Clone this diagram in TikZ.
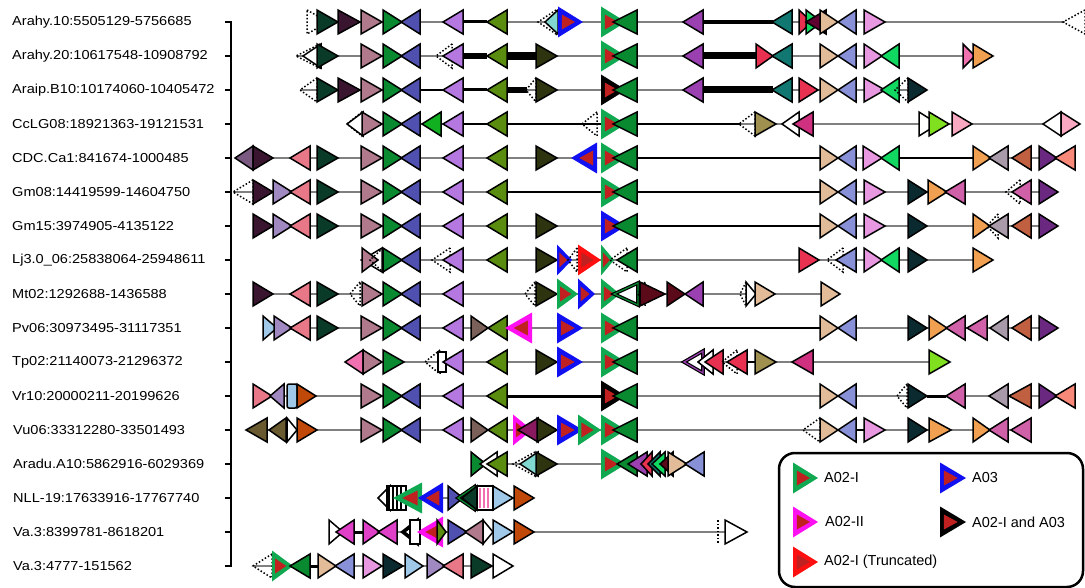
\documentclass[tikz,border=0pt]{standalone}
\usepackage{fontspec}
\setmainfont{Liberation Sans}
\usepackage{graphicx}
\definecolor{cdkgreen}{HTML}{0A3A28}
\definecolor{cdkpurple}{HTML}{3A1530}
\definecolor{cmauve}{HTML}{B07A8C}
\definecolor{cgreen}{HTML}{0A8A30}
\definecolor{cbluepurple}{HTML}{5050B0}
\definecolor{clavender}{HTML}{B478E0}
\definecolor{colive}{HTML}{5A8C10}
\definecolor{cdkolive}{HTML}{2E3310}
\definecolor{cteal}{HTML}{107870}
\definecolor{credpink}{HTML}{E83050}
\definecolor{cbrightgreen}{HTML}{10D860}
\definecolor{cmaroon}{HTML}{600030}
\definecolor{ctan}{HTML}{E2BC98}
\definecolor{clavblue}{HTML}{8890D8}
\definecolor{cpinklav}{HTML}{E898E0}
\definecolor{corange}{HTML}{F0A050}
\definecolor{cpink}{HTML}{F070B0}
\definecolor{cnavy}{HTML}{0A2A30}
\definecolor{ckhaki}{HTML}{A09050}
\definecolor{cmagpink}{HTML}{D03080}
\definecolor{clime}{HTML}{80E020}
\definecolor{clightpink}{HTML}{F8A8C0}
\definecolor{cgraypurple}{HTML}{7A5A80}
\definecolor{csalmonpink}{HTML}{E87888}
\definecolor{cgraymauve}{HTML}{A89AA8}
\definecolor{crust}{HTML}{C06040}
\definecolor{cviolet}{HTML}{6A2880}
\definecolor{csalmon}{HTML}{F88878}
\definecolor{clilac}{HTML}{A088C0}
\definecolor{cmagpinkb}{HTML}{D060A8}
\definecolor{clightblue}{HTML}{A0C8E8}
\definecolor{cbrowngray}{HTML}{7A6058}
\definecolor{crustb}{HTML}{C04808}
\definecolor{ckhakibrown}{HTML}{6A5A30}
\definecolor{cmaroonpurple}{HTML}{8A1A60}
\definecolor{cmagenta}{HTML}{E040C8}
\definecolor{clightteal}{HTML}{80D8D0}
\definecolor{cdkmaroon}{HTML}{5A0A18}
\definecolor{cpurple}{HTML}{9A40B0}
\definecolor{cgreenb}{HTML}{10B020}
\definecolor{hA02}{HTML}{10A850}
\definecolor{hA03}{HTML}{1010F0}
\definecolor{hA02II}{HTML}{FF10F0}
\definecolor{htrunc}{HTML}{FF1010}
\definecolor{hinner}{HTML}{C02020}
\definecolor{glinecol}{HTML}{808080}
\newcommand\gtri[3]{\filldraw[tri,fill=#3] (#1,\ry-12) -- (#2,\ry) -- (#1,\ry+12) -- cycle;}
\newcommand\gdot[2]{\draw[dotline] (#1,\ry-12) -- (#2,\ry) -- (#1,\ry+12) -- cycle;}
\newcommand\gto[3]{\filldraw[line width=3.6pt,fill=white] (#1,\ry-11) -- (#2,\ry) -- (#1,\ry+11) -- cycle;\draw[line width=1.2pt,#3] (#1,\ry-11) -- (#2,\ry) -- (#1,\ry+11) -- cycle;}
\newcommand\ghi[3]{\fill[#3] (#1,\ry-15.5) -- (#2,\ry) -- (#1,\ry+15.5) -- cycle;\fill[hinner] ({#1+0.15*(#2-#1)},\ry-7.5) -- ({#1+0.68*(#2-#1)},\ry) -- ({#1+0.15*(#2-#1)},\ry+7.5) -- cycle;}
\newcommand\gln[2]{\draw[gline] (#1,\ry) -- (#2,\ry);}
\newcommand\gbar[3]{\draw[line width=#3] (#1,\ry) -- (#2,\ry);}
\begin{document}
\begin{tikzpicture}[x=1pt,y=-1pt,
  tri/.style={draw=black,line width=1.5pt},
  dotline/.style={line width=1.5pt,dash pattern=on 1.5pt off 2pt},
  gline/.style={draw=glinecol,line width=1.2pt},
  lab/.style={anchor=west,inner sep=0pt,font=\fontsize{13}{15}\selectfont},
  legtxt/.style={anchor=west,inner sep=0pt,font=\fontsize{14.5}{16}\selectfont}]
\useasboundingbox (0,0) rectangle (1085,588);
% labels
\node[lab] (l1) at (12,22) {\scalebox{1.12}[1]{Arahy.10:5505129-5756685}};
\node[lab] (l2) at (12,56) {\scalebox{1.12}[1]{Arahy.20:10617548-10908792}};
\node[lab] (l3) at (12,90) {\scalebox{1.12}[1]{Araip.B10:10174060-10405472}};
\node[lab] (l4) at (12,124) {\scalebox{1.12}[1]{CcLG08:18921363-19121531}};
\node[lab] (l5) at (12,158) {\scalebox{1.12}[1]{CDC.Ca1:841674-1000485}};
\node[lab] (l6) at (12,192) {\scalebox{1.12}[1]{Gm08:14419599-14604750}};
\node[lab] (l7) at (12,226) {\scalebox{1.12}[1]{Gm15:3974905-4135122}};
\node[lab] (l8) at (12,260) {\scalebox{1.12}[1]{Lj3.0\_06:25838064-25948611}};
\node[lab] (l9) at (12,294) {\scalebox{1.12}[1]{Mt02:1292688-1436588}};
\node[lab] (l10) at (12,328) {\scalebox{1.12}[1]{Pv06:30973495-31117351}};
\node[lab] (l11) at (12,362) {\scalebox{1.12}[1]{Tp02:21140073-21296372}};
\node[lab] (l12) at (12,396) {\scalebox{1.12}[1]{Vr10:20000211-20199626}};
\node[lab] (l13) at (13,430) {\scalebox{1.12}[1]{Vu06:33312280-33501493}};
\node[lab] (l14) at (13,464) {\scalebox{1.12}[1]{Aradu.A10:5862916-6029369}};
\node[lab] (l15) at (13,498) {\scalebox{1.12}[1]{NLL-19:17633916-17767740}};
\node[lab] (l16) at (13,532) {\scalebox{1.12}[1]{Va.3:8399781-8618201}};
\node[lab] (l17) at (13,566) {\scalebox{1.12}[1]{Va.3:4777-151562}};
% bracket
\draw[line width=2pt] (225,22) -- (231,22) -- (231,566) -- (225,566);
\foreach \yy in {56,90,...,532} \draw[line width=2pt] (225,\yy) -- (231,\yy);
% Row 1
\def\ry{22}
\gln{317}{1065}\gbar{462}{487}{3pt}\gbar{703}{773}{4pt}
\gdot{307}{328}\gtri{317}{338}{cdkgreen}\gtri{338}{360}{cdkpurple}\gtri{361}{382}{cmauve}
\gtri{383}{402}{cgreen}\gtri{420}{401}{cbluepurple}\gtri{463}{443}{clavender}\gtri{507}{487}{colive}
\gdot{556}{538}\gtri{558}{545}{clightteal}\ghi{558}{583}{hA03}
\ghi{601}{626}{hA02}\gtri{637}{613}{cgreen}
\gtri{703}{683}{cpurple}\gtri{792}{772}{cteal}\gtri{799}{812}{credpink}\gtri{806}{822}{cbrightgreen}
\gtri{826}{806}{cmaroon}\gtri{820}{838}{ctan}\gtri{856}{838}{clavblue}\gtri{864}{885}{cpinklav}
\gdot{1085}{1063}
% Row 2
\def\ry{56}
\gln{296}{993}\gbar{463}{487}{6pt}\gbar{507}{537}{8pt}\gbar{703}{757}{7pt}
\gdot{320}{296}\gtri{321}{303}{white}\gtri{317}{338}{cdkgreen}\gtri{361}{382}{cmauve}
\gtri{383}{402}{cgreen}\gtri{420}{401}{cbluepurple}\gdot{452}{436}\gtri{463}{443}{clavender}
\gtri{507}{487}{colive}\gtri{536}{557}{cdkolive}
\ghi{601}{626}{hA02}\gtri{637}{613}{cgreen}
\gtri{703}{683}{cpurple}\gtri{756}{773}{credpink}\gtri{792}{772}{cteal}
\gtri{820}{838}{ctan}\gtri{856}{838}{clavblue}\gtri{864}{882}{cpinklav}\gtri{899}{881}{cbrightgreen}
\gtri{963}{975}{cpink}\gtri{973}{993}{corange}
% Row 3
\def\ry{90}
\gln{300}{927}\gbar{420}{443}{2pt}\gbar{463}{487}{3pt}\gbar{507}{527}{6pt}\gbar{703}{773}{7pt}
\gdot{317}{300}\gtri{317}{338}{cdkgreen}\gtri{338}{360}{cdkpurple}\gtri{361}{382}{cmauve}
\gtri{383}{402}{cgreen}\gtri{420}{401}{cbluepurple}\gtri{463}{443}{clavender}\gtri{507}{487}{colive}
\gdot{536}{526}\gtri{536}{557}{cdkolive}
\ghi{601}{626}{black}\gtri{637}{613}{cgreen}
\gtri{703}{683}{cpurple}\gtri{792}{772}{cteal}\gtri{799}{818}{credpink}
\gtri{820}{838}{ctan}\gtri{856}{838}{clavblue}\gtri{864}{885}{cpinklav}\gtri{899}{881}{cbrightgreen}
\gdot{908}{895}\gtri{908}{927}{cnavy}
% Row 4
\def\ry{124}
\gln{347}{1080}\gbar{463}{487}{2pt}\gbar{507}{740}{1.8pt}
\gdot{362}{347}\gtri{363}{347}{white}\gtri{362}{382}{cmauve}
\gtri{383}{402}{cgreen}\gtri{420}{401}{cbluepurple}\gtri{441}{422}{cgreenb}\gtri{463}{443}{clavender}
\gtri{507}{487}{colive}\gdot{597}{582}
\ghi{601}{626}{hA02}\gtri{637}{613}{cgreen}
\gdot{755}{739}\gtri{755}{776}{ckhaki}\gtri{799}{782}{white}\gtri{813}{793}{cmagpink}
\gtri{919}{938}{white}\gtri{929}{949}{clime}\gtri{952}{972}{clightpink}
\gtri{1061}{1043}{white}\gtri{1061}{1080}{clightpink}
% Row 5
\def\ry{158}
\gln{235}{1075}\gbar{637}{820}{1.8pt}\gbar{899}{973}{1.8pt}
\gtri{253}{235}{cgraypurple}\gtri{253}{273}{cdkpurple}\gtri{310}{290}{csalmonpink}\gtri{317}{338}{cdkgreen}
\gtri{361}{382}{cmauve}\gtri{383}{402}{cgreen}\gtri{420}{401}{cbluepurple}\gtri{463}{443}{clavender}
\gtri{507}{487}{colive}\gtri{536}{557}{cdkolive}
\ghi{597}{571}{hA03}\ghi{601}{626}{hA02}\gtri{637}{613}{cgreen}
\gtri{820}{838}{ctan}\gtri{856}{838}{clavblue}\gtri{863}{882}{cpinklav}\gtri{899}{881}{cbrightgreen}
\gtri{973}{991}{corange}\gtri{1008}{989}{cgraymauve}\gtri{1031}{1012}{crust}
\gtri{1039}{1057}{cviolet}\gtri{1075}{1055}{csalmon}
% Row 6
\def\ry{192}
\gln{233}{1058}\gbar{507}{820}{1.8pt}
\gdot{253}{233}\gtri{253}{273}{cdkpurple}\gtri{273}{292}{clilac}\gtri{310}{290}{csalmonpink}
\gtri{317}{338}{cdkgreen}\gtri{361}{382}{cmauve}\gtri{383}{402}{cgreen}\gtri{420}{401}{cbluepurple}
\gtri{463}{443}{clavender}\gtri{507}{487}{colive}
\ghi{601}{626}{hA02}\gtri{637}{613}{cgreen}
\gtri{820}{838}{ctan}\gtri{856}{838}{clavblue}\gtri{864}{885}{cpinklav}
\gtri{908}{927}{cnavy}\gtri{928}{947}{corange}\gtri{965}{945}{cmagpinkb}
\gdot{1020}{1006}\gtri{1031}{1012}{cmagpinkb}\gtri{1039}{1058}{cviolet}
% Row 7
\def\ry{226}
\gln{253}{1058}\gbar{637}{820}{1.8pt}
\gtri{253}{273}{cdkpurple}\gtri{273}{292}{clilac}\gtri{310}{290}{csalmonpink}\gtri{317}{338}{cdkgreen}
\gtri{361}{382}{cmauve}\gtri{383}{402}{cgreen}\gtri{420}{401}{cbluepurple}\gtri{463}{443}{clavender}
\gtri{507}{487}{colive}\gtri{536}{557}{cdkolive}
\ghi{601}{626}{hA03}\gtri{637}{613}{cgreen}
\gtri{820}{838}{ctan}\gtri{856}{838}{clavblue}\gtri{864}{885}{cpinklav}\gtri{908}{927}{cnavy}
\gtri{973}{990}{corange}\gdot{998}{987}\gtri{1008}{989}{cgraymauve}\gtri{1031}{1012}{crust}
\gtri{1039}{1058}{cviolet}
% Row 8
\def\ry{260}
\gln{360}{993}
\gtri{382}{362}{white}\gtri{362}{378}{cmauve}\gdot{383}{370}
\gtri{383}{402}{cgreen}\gtri{420}{401}{cbluepurple}\gdot{450}{432}\gtri{463}{443}{clavender}
\gtri{507}{487}{colive}\gtri{536}{557}{cdkolive}
\ghi{557}{572}{hA03}\gdot{577}{568}\ghi{578}{601}{htrunc}\ghi{601}{614}{hA02}
\gdot{627}{610}\gtri{637}{617}{cgreen}
\gtri{799}{819}{credpink}\gdot{843}{827}\gtri{856}{836}{clavblue}\gtri{864}{882}{cpinklav}
\gtri{899}{881}{cbrightgreen}\gtri{908}{927}{cnavy}\gtri{973}{993}{corange}
% Row 9
\def\ry{294}
\gln{253}{840}
\gtri{253}{273}{cdkpurple}\gtri{310}{290}{csalmonpink}\gtri{317}{338}{cdkgreen}\gdot{360}{350}
\gtri{362}{382}{cmauve}\gtri{383}{402}{cgreen}\gtri{420}{401}{cbluepurple}\gtri{463}{443}{clavender}
\gdot{535}{525}\gtri{536}{557}{cdkolive}
\ghi{557}{578}{hA02}\ghi{578}{595}{hA03}\ghi{601}{620}{hA02}\gto{638}{614}{cgreen}
\gdot{645}{638}\gtri{640}{665}{cdkmaroon}\gtri{667}{685}{cdkmaroon}\gtri{703}{685}{cpurple}
\gdot{746}{740}\gtri{746}{756}{white}\gtri{755}{775}{ctan}\gtri{821}{840}{ctan}
% Row 10
\def\ry{328}
\gln{263}{1058}\gbar{637}{820}{1.8pt}
\gtri{263}{277}{clightblue}\gtri{274}{292}{clilac}\gtri{310}{290}{csalmonpink}\gtri{317}{338}{cdkgreen}
\gtri{361}{382}{cmauve}\gtri{383}{402}{cgreen}\gtri{420}{401}{cbluepurple}\gtri{463}{443}{clavender}
\gtri{471}{488}{cbrowngray}\gtri{507}{488}{colive}
\ghi{532}{505}{hA02II}\ghi{557}{583}{hA03}\ghi{601}{626}{hA02}\gtri{637}{613}{cgreen}
\gtri{820}{838}{ctan}\gtri{856}{838}{clavblue}\gtri{908}{927}{cnavy}\gtri{929}{947}{corange}
\gtri{965}{946}{cmagpinkb}\gtri{987}{967}{cmagpinkb}\gtri{1008}{990}{cgraymauve}
\gtri{1031}{1012}{crust}\gtri{1039}{1058}{cviolet}
% Row 11
\def\ry{362}
\gln{345}{950}\gbar{747}{755}{2pt}
\gtri{363}{345}{cpink}\gtri{363}{382}{cmauve}\gtri{383}{404}{cgreen}
\gdot{440}{425}\draw[tri,fill=white] (438,\ry-10) rectangle (446,\ry+10);
\gtri{463}{443}{clavender}\gtri{507}{487}{colive}\gtri{536}{557}{cdkolive}
\ghi{557}{583}{hA03}\ghi{601}{626}{hA02}\gtri{637}{613}{cgreen}
\gto{703}{684}{cpurple}\gtri{713}{698}{white}\gtri{723}{705}{credpink}\gdot{737}{722}
\gtri{747}{727}{credpink}\gtri{755}{776}{ckhaki}\gtri{813}{792}{cmagpink}\gtri{929}{950}{clime}
% Row 12
\def\ry{396}
\gln{253}{1075}\gbar{507}{601}{3pt}\gbar{927}{946}{3pt}
\gtri{253}{272}{csalmonpink}\gtri{284}{270}{clilac}
\filldraw[tri,fill=clightblue,rounded corners=2pt] (287,\ry-12) rectangle (297,\ry+12);
\gtri{297}{316}{crustb}
\gtri{361}{382}{cmauve}\gtri{383}{402}{cgreen}\gtri{420}{401}{cbluepurple}\gtri{463}{443}{clavender}
\gtri{507}{487}{colive}
\ghi{601}{626}{black}\gtri{637}{613}{cgreen}
\gtri{820}{838}{ctan}\gtri{856}{838}{clavblue}\gdot{907}{897}\gtri{908}{927}{cnavy}
\gtri{965}{946}{cmagpinkb}\gtri{1008}{989}{cgraymauve}\gtri{1031}{1009}{crust}
\gtri{1039}{1057}{cviolet}\gtri{1075}{1055}{csalmon}
% Row 13
\def\ry{430}
\gln{246}{1031}\gbar{856}{864}{2pt}
\gtri{267}{246}{ckhakibrown}\gtri{286}{269}{ckhakibrown}\gtri{287}{297}{white}\gtri{297}{317}{crustb}
\gtri{361}{382}{cmauve}\gtri{383}{402}{cgreen}\gtri{420}{401}{cbluepurple}\gtri{463}{443}{clavender}
\gtri{471}{488}{cbrowngray}\gtri{507}{488}{colive}
\ghi{513}{532}{hA02II}\gtri{538}{518}{cmaroonpurple}\gtri{537}{557}{cdkolive}
\ghi{557}{583}{hA03}\ghi{578}{601}{hA02}\ghi{601}{626}{hA02}\gtri{637}{613}{cgreen}
\gdot{820}{803}\gtri{820}{838}{ctan}\gtri{856}{838}{clavblue}\gtri{864}{885}{cpinklav}
\gtri{908}{927}{cnavy}\gtri{929}{951}{corange}\gtri{973}{990}{corange}
\gtri{1008}{989}{cmagpinkb}\gtri{1031}{1011}{cmagpinkb}
% Row 14
\def\ry{464}
\gln{471}{704}
\gtri{471}{486}{cgreen}\gtri{497}{480}{white}\gtri{507}{487}{colive}
\gdot{535}{513}\gtri{538}{520}{clightteal}\gtri{536}{557}{cdkolive}
\ghi{601}{626}{hA02}\gtri{637}{617}{cgreen}\gtri{647}{628}{cpurple}
\gtri{652}{641}{credpink}\gtri{660}{648}{cteal}\gtri{665}{652}{cbrightgreen}\gtri{673}{660}{cdkmaroon}
\gtri{668}{687}{ctan}\gtri{704}{685}{clavblue}
% Row 15
\def\ry{498}
\gln{378}{534}
\gtri{390}{378}{white}
\draw[tri,fill=white] (387,\ry-12) rectangle (406,\ry+12);
\foreach \xx in {389,393,397,401} \draw[line width=1.5pt] (\xx,\ry-12) -- (\xx,\ry+12);
\ghi{422}{393}{hA02}\ghi{443}{418}{hA03}
\gtri{448}{463}{cbluepurple}\gto{474}{458}{cgreen}\gtri{477}{462}{cdkgreen}
\draw[tri,fill=white] (477,\ry-12) rectangle (493,\ry+12);
\foreach \xx in {480,484,488} \draw[line width=1.5pt,cpink] (\xx,\ry-10) -- (\xx,\ry+10);
\gtri{493}{513}{clightblue}\gtri{514}{534}{crustb}
% Row 16
\def\ry{532}
\gln{329}{746}\gbar{354}{363}{3pt}
\gtri{329}{343}{white}\gtri{354}{336}{cmagenta}\gtri{363}{380}{cmagenta}\gtri{397}{378}{cmagenta}
\gto{417}{403}{black}
\draw[tri,fill=white] (410,\ry-12) rectangle (420,\ry+12);
\ghi{443}{417}{hA02II}\gtri{437}{446}{colive}
\gtri{448}{467}{cbluepurple}\gtri{483}{465}{cmauve}\gtri{483}{493}{white}
\gtri{493}{513}{clightblue}\gtri{514}{534}{crustb}
\draw[dotline] (718,\ry-12) -- (718,\ry+12);\gtri{725}{747}{white}
% Row 17
\def\ry{566}
\gln{253}{513}\gbar{310}{318}{3pt}
\gdot{272}{253}\ghi{272}{293}{hA02}\gtri{310}{290}{cgreen}\gtri{318}{336}{ctan}\gtri{354}{335}{clavblue}
\gtri{363}{382}{cpinklav}\gtri{383}{403}{cnavy}\gtri{405}{423}{clightblue}\gtri{427}{445}{clilac}
\gtri{463}{443}{csalmonpink}\gtri{471}{492}{cdkgreen}\gtri{493}{513}{white}
% Legend
\draw[line width=2.5pt,rounded corners=16pt] (779,453) rectangle (1083,587);
\def\ry{478}\ghi{793}{818}{hA02}\ghi{940}{966}{hA03}
\def\ry{522}\ghi{793}{818}{hA02II}\ghi{940}{966}{black}
\def\ry{562}\ghi{793}{818}{htrunc}
\node[legtxt] (t1) at (824,478) {A02-I};
\node[legtxt] (t2) at (972,478) {A03};
\node[legtxt] (t3) at (825,522) {A02-II};
\node[legtxt] (t4) at (972,522) {A02-I and A03};
\node[legtxt] (t5) at (824,562) {A02-I (Truncated)};
\end{tikzpicture}
\end{document}
